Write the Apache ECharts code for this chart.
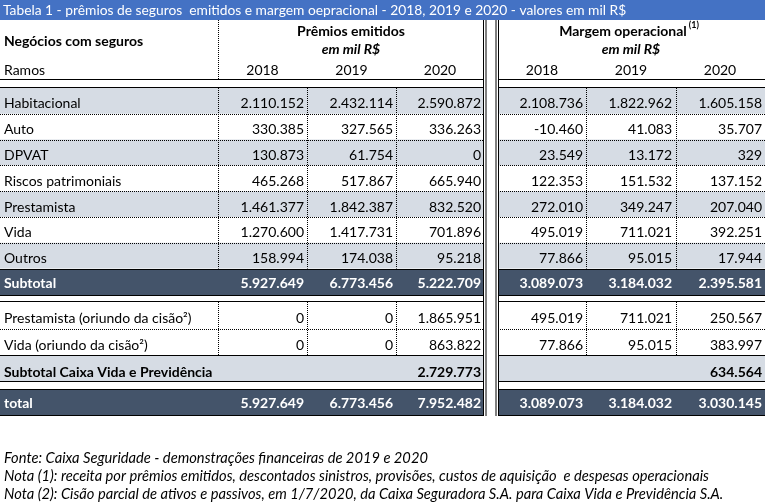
<!DOCTYPE html>
<html><head><meta charset="utf-8">
<script src="https://cdn.jsdelivr.net/npm/echarts@6/dist/echarts.min.js"></script>
<style>html,body{margin:0;padding:0;background:#fff}#c{width:765px;height:504px}</style>
</head><body><div id="c"></div>
<script>
// ---------- data ----------
const titleText = 'Tabela 1 - prêmios de seguros  emitidos e margem oepracional - 2018, 2019 e 2020 - valores em mil R$';
const years = ['2018', '2019', '2020'];
const categories = ['Habitacional', 'Auto', 'DPVAT', 'Riscos patrimoniais', 'Prestamista', 'Vida', 'Outros'];
const premios2018 = [2110152, 330385, 130873, 465268, 1461377, 1270600, 158994];
const premios2019 = [2432114, 327565, 61754, 517867, 1842387, 1417731, 174038];
const premios2020 = [2590872, 336263, 0, 665940, 832520, 701896, 95218];
const margem2018 = [2108736, -10460, 23549, 122353, 272010, 495019, 77866];
const margem2019 = [1822962, 41083, 13172, 151532, 349247, 711021, 95015];
const margem2020 = [1605158, 35707, 329, 137152, 207040, 392251, 17944];
const subtotalPremios = [5927649, 6773456, 5222709];
const subtotalMargem = [3089073, 3184032, 2395581];
const cisaoLabels = ['Prestamista (oriundo da cisão²)', 'Vida (oriundo da cisão²)'];
const cisaoPremios = [[0, 0, 1865951], [0, 0, 863822]];
const cisaoMargem = [[495019, 711021, 250567], [77866, 95015, 383997]];
const subtotalCaixaLabel = 'Subtotal Caixa Vida e Previdência';
const subtotalCaixaPremios = [null, null, 2729773];
const subtotalCaixaMargem = [null, null, 634564];
const totalPremios = [5927649, 6773456, 7952482];
const totalMargem = [3089073, 3184032, 3030145];
const notes = [
  'Fonte: Caixa Seguridade - demonstrações financeiras de 2019 e 2020',
  'Nota (1): receita por prêmios emitidos, descontados sinistros, provisões, custos de aquisição  e despesas operacionais',
  'Nota (2): Cisão parcial de ativos e passivos, em 1/7/2020, da Caixa Seguradora S.A. para Caixa Vida e Previdência S.A.'
];

// ---------- layout ----------
const FONT = 'Lato, "Open Sans", sans-serif';
const FS = 14;
const BLUE = '#4472C4', GRAY = '#D6DCE4', DARK = '#44546A';
const G1 = [0, 484], G2 = [498, 765];
const vDotX = [218, 307, 396, 586, 676];
const numRight = [304, 393, 481, 583, 672, 762];
const yearCenter = [262.5, 351.5, 440, 542, 631, 720];

function fmt(v) {
  if (v === null || v === undefined) return '';
  const s = Math.abs(v).toString().replace(/\B(?=(\d{3})+(?!\d))/g, '.');
  return (v < 0 ? '-' : '') + s;
}
const mctx = document.createElement('canvas').getContext('2d');
function measure(t, font) { mctx.font = font; return mctx.measureText(t).width; }

const g = [];
function rect(x, y, w, h, fill) { g.push({type: 'rect', silent: true, shape: {x, y, width: w, height: h}, style: {fill}}); }
function hl(x1, x2, y, dotted) { g.push({type: 'line', silent: true, shape: {x1, y1: y, x2, y2: y}, style: {stroke: '#000', lineWidth: 1, lineDash: dotted ? [1, 1] : null}}); }
function vl(x, y1, y2, dotted) { g.push({type: 'line', silent: true, shape: {x1: x, y1, x2: x, y2}, style: {stroke: '#000', lineWidth: 1, lineDash: dotted ? [1, 1] : null}}); }
function tx(t, x, y, o) {
  o = o || {};
  g.push({type: 'text', silent: true, x, y, style: {
    text: t, fill: o.fill || '#000', fontFamily: FONT, fontSize: o.size || FS,
    fontWeight: o.bold ? 'bold' : 'normal', fontStyle: o.italic ? 'italic' : 'normal',
    align: o.align || 'left', verticalAlign: 'middle'
  }, z: 10});
}
function fillRow(y, h, fill) { rect(G1[0], y, G1[1] - G1[0], h, fill); rect(G2[0], y, G2[1] - G2[0], h, fill); }
function lineRow(y, dotted) { hl(G1[0], G1[1], y, dotted); hl(G2[0], G2[1], y, dotted); }
function numbers(vals, y, o) { vals.forEach((v, i) => tx(fmt(v), numRight[i], y, Object.assign({align: 'right'}, o))); }

// title bar
rect(0, 0, 765, 20, BLUE);
tx(titleText, 3, 10.5, {fill: '#fff', size: 13.8});

// header
tx('Negócios com seguros', 4, 41, {bold: true});
tx('Prêmios emitidos', 351, 31, {bold: true, align: 'center'});
tx('em mil R$', 351, 49.5, {bold: true, italic: true, align: 'center'});
const margemHead = 'Margem operacional';
const mhW = measure(margemHead, 'bold ' + FS + 'px ' + FONT);
tx(margemHead, 623, 31, {bold: true, align: 'center'});
tx('(1)', 623 + mhW / 2 + 2, 25.5, {bold: true, size: 9});
tx('em mil R$', 631, 49.5, {bold: true, italic: true, align: 'center'});
tx('Ramos', 4, 70);
years.concat(years).forEach((y, i) => tx(y, yearCenter[i], 70, {align: 'center'}));
vl(218.5, 20, 79, true);
lineRow(79.5, false);

// main rows
const top0 = 88, rh = 25.8;
const pCols = [premios2018, premios2019, premios2020];
const mCols = [margem2018, margem2019, margem2020];
categories.forEach((c, i) => {
  const y = top0 + i * rh;
  if (i % 2 === 0) fillRow(y, rh, GRAY);
});
lineRow(87.5, false);
categories.forEach((c, i) => {
  const y = top0 + i * rh;
  const cy = y + rh - 10;
  tx(c, 4, cy);
  numbers(pCols.map(a => a[i]).concat(mCols.map(a => a[i])), cy);
  if (i > 0) lineRow(Math.round(y) + 0.5, true);
});
const mainEnd = top0 + categories.length * rh;
vDotX.forEach(x => vl(x + 0.5, top0, mainEnd, true));
// subtotal
const subTop = Math.round(mainEnd);
fillRow(subTop, 295 - subTop, DARK);
lineRow(subTop + 0.5, false);
lineRow(295.5, false);
tx('Subtotal', 4, 283, {bold: true, fill: '#fff'});
numbers(subtotalPremios.concat(subtotalMargem), 283, {bold: true, fill: '#fff'});

// lower section
lineRow(301.5, false);
cisaoLabels.forEach((c, i) => {
  const cy = i === 0 ? 318 : 345;
  tx(c, 4, cy);
  numbers(cisaoPremios[i].concat(cisaoMargem[i]), cy);
});
lineRow(329.5, true);
vDotX.forEach(x => vl(x + 0.5, 302, 355, true));
fillRow(356, 25, GRAY);
lineRow(355.5, false);
lineRow(381.5, false);
tx(subtotalCaixaLabel, 4, 372, {bold: true});
numbers(subtotalCaixaPremios.concat(subtotalCaixaMargem), 372, {bold: true});
fillRow(389, 26, DARK);
lineRow(389.5, false);
lineRow(415.5, false);
tx('total', 4, 403, {bold: true, fill: '#fff'});
numbers(totalPremios.concat(totalMargem), 403, {bold: true, fill: '#fff'});

// double vertical separators
[483.5, 486, 496, 498.5].forEach(x => vl(x, 20, 416, false));

// notes
notes.forEach((n, i) => tx(n, 4, 458 + i * 18, {italic: true, size: 14.7}));

const chart = echarts.init(document.getElementById('c'), null, {renderer: 'canvas'});
chart.setOption({animation: false, graphic: {elements: g}});
</script></body></html>
